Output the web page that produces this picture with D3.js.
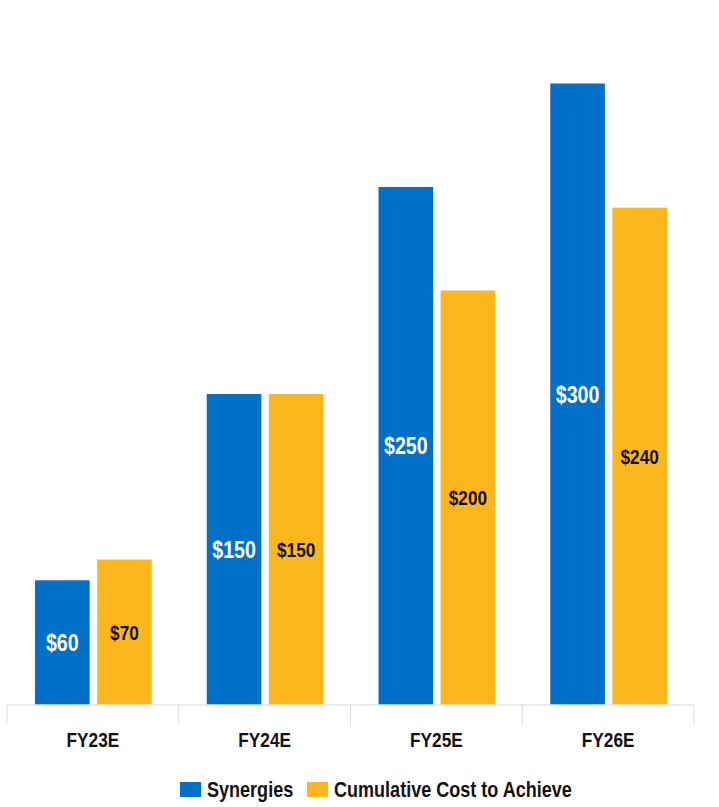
<!DOCTYPE html>
<html>
<head>
<meta charset="utf-8">
<script src="https://cdn.jsdelivr.net/npm/d3@7"></script>
<style>
  html, body { margin: 0; padding: 0; background: #fff; }
  svg { display: block; }
  text { font-family: "Liberation Sans", Arial, sans-serif; font-weight: bold; }
</style>
</head>
<body>
<svg id="chart" width="719" height="807"></svg>
<script>
// Fiscal years and the two series ($ millions)
const categories = ["FY23E", "FY24E", "FY25E", "FY26E"];
const seriesNames = ["Synergies", "Cumulative Cost to Achieve"];
const synergies = [60, 150, 250, 300];
const costToAchieve = [70, 150, 200, 240];
const valueLabels = [
  ["$60", "$150", "$250", "$300"],
  ["$70", "$150", "$200", "$240"]
];
const colors = ["#0070C9", "#FDB71D"];
const labelColors = ["#ffffff", "#111111"];

// Condensed bold text: regular bold face squeezed horizontally
const NARROW = 0.82;
function narrowText(sel, x, y) {
  sel.attr("x", 0).attr("y", 0)
    .attr("transform", (d, i) => `translate(${x(d, i)},${y(d, i)}) scale(${NARROW},1)`);
  return sel;
}

const svg = d3.select("#chart");
const baseY = 704.5;
const x0 = 7, x1 = 694;

const x = d3.scaleBand().domain(categories).range([x0, x1]).paddingInner(0).paddingOuter(0);
const inner = d3.scaleBand().domain([0, 1]).range([28, x.bandwidth() - 27]).paddingInner(0.12);
const y = d3.scaleLinear().domain([0, 300]).range([baseY, baseY - 621]);

const series = [synergies, costToAchieve];

// Bars and value labels
series.forEach((vals, si) => {
  const g = svg.append("g");
  g.selectAll("rect").data(vals).join("rect")
    .attr("x", (d, i) => x(categories[i]) + inner(si))
    .attr("y", d => y(d))
    .attr("width", inner.bandwidth())
    .attr("height", d => y(0) - y(d))
    .attr("fill", colors[si]);
  const t = g.selectAll("text").data(vals).join("text")
    .attr("dy", "0.36em")
    .attr("text-anchor", "middle")
    .attr("fill", labelColors[si])
    .attr("font-size", si === 0 ? 24 : 21)
    .text((d, i) => valueLabels[si][i]);
  narrowText(t,
    (d, i) => x(categories[i]) + inner(si) + inner.bandwidth() / 2,
    d => (y(d) + y(0)) / 2);
});

// Category axis with tick separators between bands
const axis = svg.append("g");
axis.append("line")
  .attr("x1", x0).attr("x2", x1)
  .attr("y1", baseY + 0.5).attr("y2", baseY + 0.5)
  .attr("stroke", "#D9D9D9").attr("stroke-width", 1.2);
const tickXs = categories.map(c => x(c)).concat([x1]);
axis.selectAll("line.tick").data(tickXs).join("line")
  .attr("class", "tick")
  .attr("x1", d => d).attr("x2", d => d)
  .attr("y1", baseY + 0.5).attr("y2", baseY + 20)
  .attr("stroke", "#D9D9D9").attr("stroke-width", 1);
const catText = axis.selectAll("text").data(categories).join("text")
  .attr("dy", "0.36em")
  .attr("text-anchor", "middle")
  .attr("fill", "#111")
  .attr("font-size", 21)
  .text(d => d);
narrowText(catText, d => x(d) + x.bandwidth() / 2, () => 739.5);

// Legend
const legend = svg.append("g");
const legendItems = [
  { name: seriesNames[0], color: colors[0], x: 180 },
  { name: seriesNames[1], color: colors[1], x: 307 }
];
legendItems.forEach(it => {
  legend.append("rect")
    .attr("x", it.x).attr("y", 782)
    .attr("width", 21).attr("height", 15)
    .attr("fill", it.color);
  const lt = legend.append("text")
    .datum(it)
    .attr("dy", "0.36em")
    .attr("fill", "#111")
    .attr("font-size", 22)
    .text(it.name);
  narrowText(lt, d => d.x + 27, () => 789.5);
});
</script>
</body>
</html>
